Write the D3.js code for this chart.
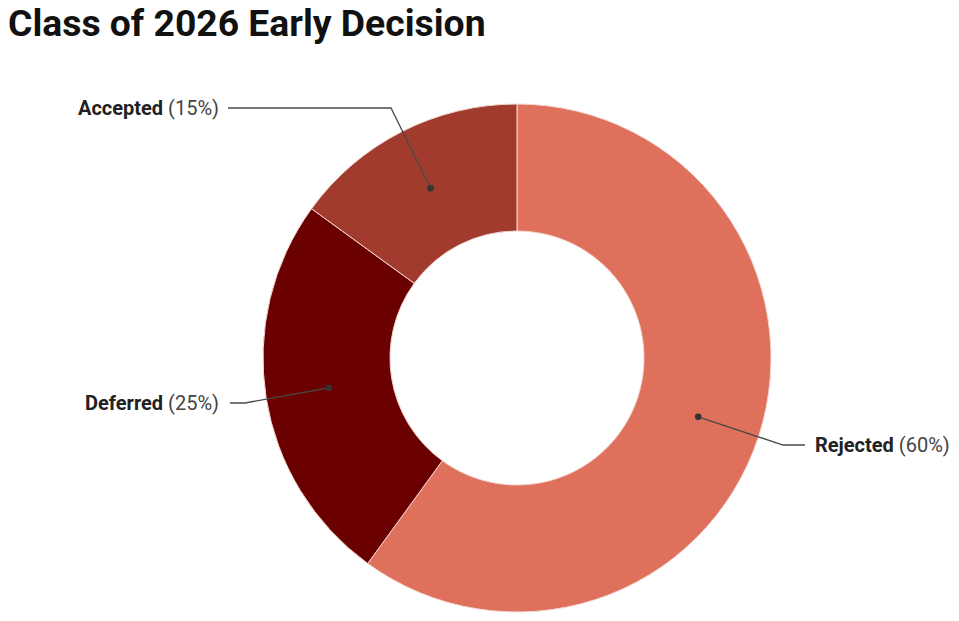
<!DOCTYPE html>
<html>
<head>
<meta charset="utf-8">
<script src="https://cdn.jsdelivr.net/npm/d3@7"></script>
<style>
  html, body { margin: 0; padding: 0; background: #fff; }
  svg { display: block; }
</style>
</head>
<body>
<svg id="chart" width="959" height="621"></svg>
<script>
const categories = ["Rejected", "Deferred", "Accepted"];
const values = [60, 25, 15];
const colors = ["#DE705C", "#6A0000", "#A13B2D"];

// layout (label placement) for each slice
const labelLayout = {
  Rejected: { side: "right", elbow: [783, 445], end: [805, 445], text: [815, 445] },
  Deferred: { side: "left", elbow: [245, 403], end: [230, 403], text: [219, 403] },
  Accepted: { side: "left", elbow: [391, 108], end: [228, 108], text: [219, 108] }
};

const svg = d3.select("#chart");
const cx = 517, cy = 358, outerR = 254, innerR = 127;

svg.append("text")
  .attr("x", 8).attr("y", 36)
  .attr("font-family", "Roboto, sans-serif")
  .attr("font-weight", 700)
  .attr("font-size", 37.3)
  .attr("fill", "#111")
  .text("Class of 2026 Early Decision");

const data = categories.map((c, i) => ({ name: c, value: values[i], color: colors[i] }));
const pie = d3.pie().value(d => d.value).sort(null);
const arc = d3.arc().innerRadius(innerR).outerRadius(outerR);
const arcs = pie(data);

const g = svg.append("g").attr("transform", `translate(${cx},${cy})`);
g.selectAll("path.slice")
  .data(arcs)
  .join("path")
  .attr("class", "slice")
  .attr("d", arc)
  .attr("fill", d => d.data.color)
  .attr("stroke", "#f3d6d0")
  .attr("stroke-width", 1);

const lg = svg.append("g");
arcs.forEach(a => {
  const L = labelLayout[a.data.name];
  const c = arc.centroid(a);
  const p0 = [cx + c[0], cy + c[1]];
  lg.append("polyline")
    .attr("points", [p0, L.elbow, L.end].map(p => p.join(",")).join(" "))
    .attr("fill", "none")
    .attr("stroke", "#4a4a4a")
    .attr("stroke-width", 1.3);
  lg.append("circle")
    .attr("cx", p0[0]).attr("cy", p0[1]).attr("r", 3.3)
    .attr("fill", "#333");
  const t = lg.append("text")
    .attr("x", L.text[0]).attr("y", L.text[1])
    .attr("dy", "0.35em")
    .attr("text-anchor", L.side === "left" ? "end" : "start")
    .attr("font-family", "Roboto, sans-serif")
    .attr("font-size", 20)
    .attr("fill", "#222");
  t.append("tspan").attr("font-weight", 700).text(a.data.name);
  t.append("tspan").attr("font-weight", 400).attr("fill", "#444").text(" (" + a.data.value + "%)");
});
</script>
</body>
</html>
